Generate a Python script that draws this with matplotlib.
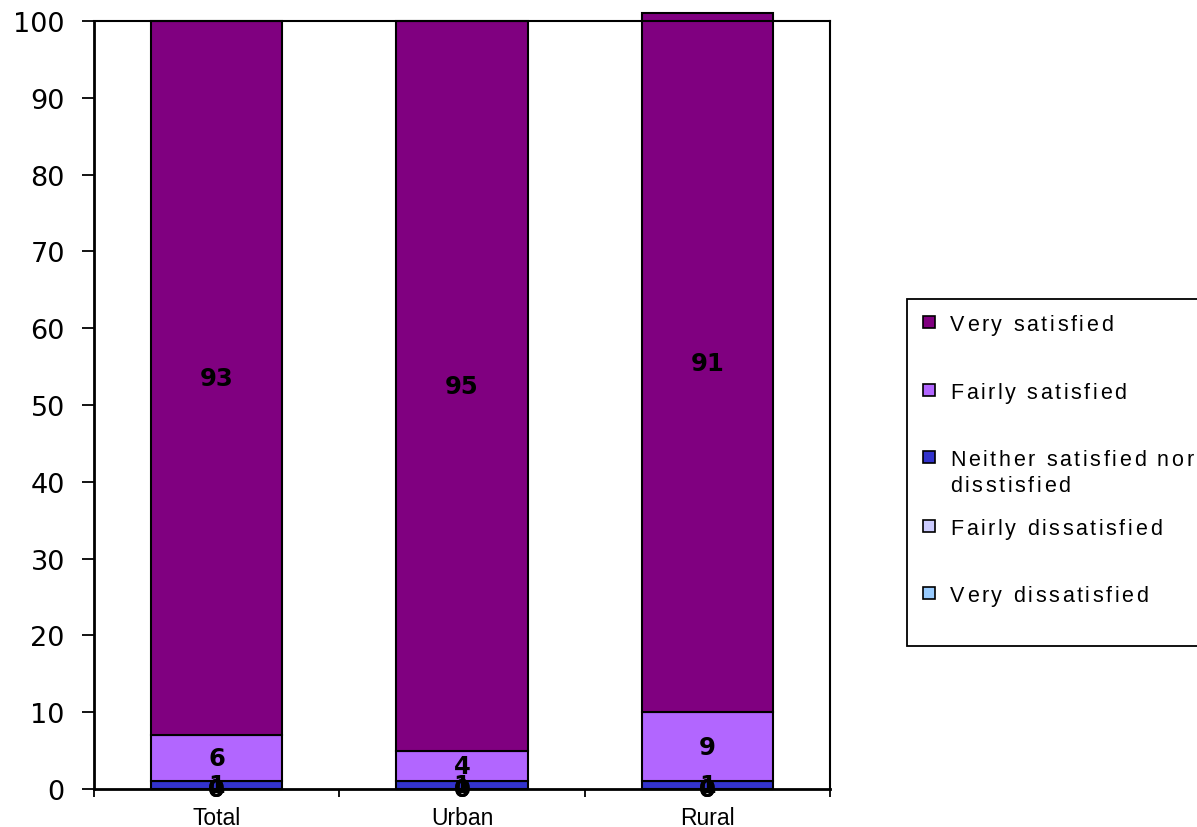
import matplotlib
matplotlib.use("Agg")
import matplotlib.pyplot as plt
from matplotlib.patches import Rectangle
from matplotlib import font_manager
from matplotlib.font_manager import FontProperties
import numpy as np

plt.rcParams['font.family'] = ['Liberation Sans', 'DejaVu Sans']

categories = ["Total", "Urban", "Rural"]
# stacked from bottom to top
series_names = ["Very dissatisfied", "Fairly dissatisfied",
                "Neither satisfied nor\ndisstisfied", "Fairly satisfied", "Very satisfied"]
very_dissatisfied = [0, 0, 0]
fairly_dissatisfied = [0, 0, 0]
neither = [1, 1, 1]
fairly_satisfied = [6, 4, 9]
very_satisfied = [93, 95, 91]
series_values = [very_dissatisfied, fairly_dissatisfied, neither, fairly_satisfied, very_satisfied]
colors = ["#99CCFF", "#CCCCFF", "#3333CC", "#B266FF", "#800080"]
y_ticks = [0, 10, 20, 30, 40, 50, 60, 70, 80, 90, 100]

W, H = 1197, 828
DPI = 100
fig = plt.figure(figsize=(W / DPI, H / DPI), dpi=DPI)
ax = fig.add_axes([94 / W, 1 - 790 / H, (830 - 94) / W, (790 - 22) / H])

x = np.arange(len(categories))
bottom = np.zeros(len(categories))
for vals, col in zip(series_values, colors):
    vals = np.array(vals, dtype=float)
    ax.bar(x, vals, width=0.535, bottom=bottom, color=col,
           edgecolor="black", linewidth=1.5, clip_on=False, zorder=2)
    for xi, b, v in zip(x, bottom, vals):
        ax.text(xi, b + v / 2, f"{v:g}", ha="center", va="center",
                fontsize=17.5, fontweight="bold", family="DejaVu Sans",
                color="black", zorder=3)
    bottom += vals

ax.set_xlim(-0.5, 2.5)
ax.set_ylim(0, 100)
ax.set_yticks(y_ticks)
ax.set_yticklabels([str(t) for t in y_ticks], fontsize=19.5, family="DejaVu Sans")
ax.tick_params(axis="y", direction="out", length=9, width=1.3, pad=12)

# category boundaries carry the x ticks, labels sit under bar centres
ax.set_xticks([-0.5, 0.5, 1.5, 2.5])
ax.set_xticklabels([])
ax.set_xticks(x, minor=True)
ax.set_xticklabels(categories, minor=True, fontsize=16.5)
ax.tick_params(axis="x", which="major", direction="out", length=6, width=1.3)
ax.tick_params(axis="x", which="minor", length=0, pad=12)

for side in ["left", "bottom"]:
    ax.spines[side].set_linewidth(2)
for side in ["top", "right"]:
    ax.spines[side].set_linewidth(1.5)


def tracked_text(x_px, y_px, s, size, tracking):
    """Draw s left-aligned at pixel (x_px, baseline y_px) with extra letter spacing."""
    fp = FontProperties(family="Liberation Sans", size=size)
    font = font_manager.get_font(font_manager.findfont(fp))
    font.set_size(size, DPI)
    cx = x_px
    for ch in s:
        fig.text(cx / W, 1 - y_px / H, ch, fontproperties=fp,
                 ha="left", va="baseline")
        adv = font.load_char(ord(ch)).linearHoriAdvance / 65536
        cx += adv + tracking


# legend panel
fig.patches.append(Rectangle((907 / W, 1 - 647 / H), (1215 - 907) / W, (647 - 300) / H,
                             transform=fig.transFigure, facecolor="white",
                             edgecolor="black", linewidth=1.3))
legend_rows = [(4, 323), (3, 391), (2, 458), (1, 527), (0, 594)]
for idx, ypx in legend_rows:
    fig.patches.append(Rectangle((923 / W, 1 - (ypx + 6) / H), 12 / W, 12 / H,
                                 transform=fig.transFigure, facecolor=colors[idx],
                                 edgecolor="black", linewidth=1.2))
    for k, line in enumerate(series_names[idx].split("\n")):
        tracked_text(950, ypx + 8 + 26 * k, line, 15.5, 2.6)

fig.savefig("out.png", dpi=DPI)
